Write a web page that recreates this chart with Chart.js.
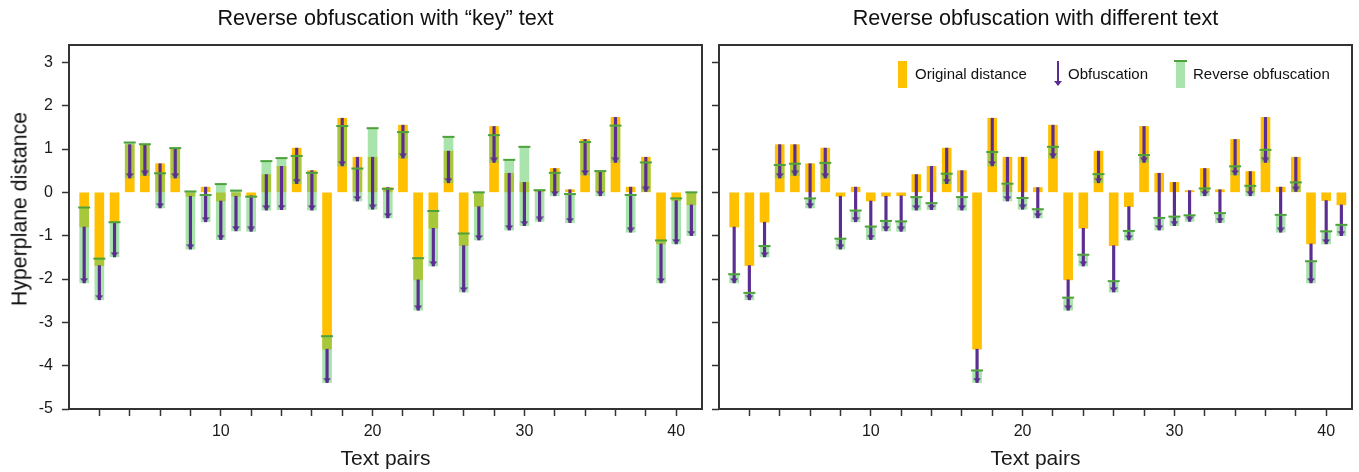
<!DOCTYPE html>
<html>
<head>
<meta charset="utf-8">
<title>Reverse obfuscation</title>
<script src="https://cdn.jsdelivr.net/npm/chart.js@4.4.1/dist/chart.umd.min.js"></script>
<style>
  body { margin: 0; background: #fff; font-family: "Liberation Sans", Arial, Helvetica, sans-serif; color: #111; }
  #wrap { position: relative; width: 1359px; height: 472px; overflow: hidden; }
  .panel { position: absolute; top: 0; height: 472px; }
  #left { left: 0; width: 710px; }
  #right { left: 706px; width: 654px; }
  .title { position: absolute; top: 5px; width: 633px; font-size: 21.6px; line-height: 26px; text-align: center; white-space: nowrap; }
  #ylabel { position: absolute; left: 20px; top: 209px; font-size: 21.3px; white-space: nowrap;
            transform: translate(-50%, -50%) rotate(-90deg); }
  .lg { position: absolute; }
  .lg-text { position: absolute; top: 65px; font-size: 15px; line-height: 18px; white-space: nowrap; }
</style>
</head>
<body>
<div id="wrap">
  <div class="panel" id="left"><canvas id="keyChart"></canvas></div>
  <div class="panel" id="right"><canvas id="diffChart"></canvas></div>

  <div class="title" style="left:69px">Reverse obfuscation with “key” text</div>
  <div class="title" style="left:719px">Reverse obfuscation with different text</div>
  <div id="ylabel">Hyperplane distance</div>

  <!-- legend (right panel, top right) -->
  <div class="lg" style="left:898px; top:61px; width:9px; height:27px; background:#FFC000"></div>
  <div class="lg-text" style="left:915px">Original distance</div>
  <div class="lg" style="left:1057px; top:61px; width:2px; height:21px; background:#5b2d90"></div>
  <div class="lg" style="left:1054px; top:81px; width:0; height:0; border-left:4px solid transparent; border-right:4px solid transparent; border-top:5px solid #5b2d90"></div>
  <div class="lg-text" style="left:1068px">Obfuscation</div>
  <div class="lg" style="left:1176px; top:61px; width:9px; height:27px; background:rgba(100,206,106,0.56)"></div>
  <div class="lg" style="left:1174px; top:60px; width:13px; height:2px; background:#4da23c"></div>
  <div class="lg-text" style="left:1193px">Reverse obfuscation</div>
</div>

<script>
// --- Data ---
const pairs = [1, 2, 3, 4, 5, 6, 7, 8, 9, 10, 11, 12, 13, 14, 15, 16, 17, 18, 19, 20,
  21, 22, 23, 24, 25, 26, 27, 28, 29, 30, 31, 32, 33, 34, 35, 36, 37, 38, 39, 40, 41];

const originalDist = [-0.80, -1.69, -0.69, 1.10, 1.10, 0.66, 1.02, -0.09, 0.12, -0.20,
  -0.09, -0.08, 0.41, 0.60, 1.02, 0.50, -3.62, 1.71, 0.81, 0.81,
  0.11, 1.55, -2.02, -0.83, 0.95, -1.23, -0.33, 1.52, 0.44, 0.23,
  0.04, 0.55, 0.06, 1.22, 0.48, 1.73, 0.12, 0.81, -1.19, -0.19, -0.29];

const obfuscatedDist = [-2.09, -2.48, -1.49, 0.33, 0.39, -0.36, 0.33, -1.31, -0.68, -1.09,
  -0.89, -0.90, -0.41, -0.40, 0.20, -0.41, -4.39, 0.61, -0.20, -0.39,
  -0.59, 0.79, -2.72, -1.70, 0.22, -2.30, -1.10, 0.69, -0.87, -0.77,
  -0.67, -0.08, -0.70, 0.40, -0.08, 0.69, -0.92, 0.02, -2.09, -1.19, -1.00];

// reverse obfuscation using the "key" text (left panel)
const reverseKey = [-0.35, -1.53, -0.69, 1.15, 1.11, 0.44, 1.02, 0.02, -0.06, 0.19,
  0.04, -0.10, 0.72, 0.79, 0.84, 0.45, -3.32, 1.53, 0.55, 1.48,
  0.08, 1.39, -1.52, -0.43, 1.28, -0.95, 0.00, 1.32, 0.75, 1.05,
  0.05, 0.45, -0.04, 1.16, 0.49, 1.54, -0.06, 0.69, -1.11, -0.14, 0.00];

// reverse obfuscation using a different text (right panel)
const reverseDiff = [-1.89, -2.32, -1.24, 0.63, 0.66, -0.14, 0.68, -1.07, -0.42, -0.79,
  -0.66, -0.67, -0.11, -0.25, 0.43, -0.11, -4.11, 0.93, 0.20, -0.13,
  -0.39, 1.05, -2.43, -1.44, 0.42, -2.05, -0.89, 0.86, -0.59, -0.56,
  -0.53, 0.09, -0.48, 0.60, 0.15, 0.98, -0.52, 0.23, -1.59, -0.90, -0.75];

const yTickValues = [-5, -4, -3, -2, -1, 0, 1, 2, 3];
const xTickValues = [2, 4, 6, 8, 10, 12, 14, 16, 18, 20, 22, 24, 26, 28, 30, 32, 34, 36, 38, 40];
const xTickLabels = [10, 20, 30, 40];

// --- Styling ---
const FONT = '"Liberation Sans", Arial, Helvetica, sans-serif';
const ORANGE = '#FFC000';
const PURPLE = '#5b2d90';
const GREEN_FILL = 'rgba(100, 206, 106, 0.56)';
const GREEN_TICK = '#4da23c';
const AXIS = '#333';
const TEXT = '#1a1a1a';

// arrow head marker: tip sits on the marker centre so it lands on the obfuscated value
function makeArrowHead() {
  const c = document.createElement('canvas');
  c.width = 8;
  c.height = 10;
  const g = c.getContext('2d');
  g.fillStyle = PURPLE;
  g.beginPath();
  g.moveTo(0, 0.5);
  g.lineTo(8, 0.5);
  g.lineTo(4, 5);
  g.closePath();
  g.fill();
  return c;
}
const arrowHead = makeArrowHead();

// box around the plotting area
const framePlugin = {
  id: 'frame',
  afterDatasetsDraw(chart) {
    const { ctx, chartArea: a } = chart;
    ctx.save();
    ctx.strokeStyle = AXIS;
    ctx.lineWidth = 2;
    ctx.strokeRect(a.left, a.top, a.right - a.left, a.bottom - a.top);
    ctx.restore();
  }
};

function makeChart(canvasId, reverse, isLeft) {
  const tickGrid = { drawOnChartArea: false, offset: false, tickLength: 7, tickWidth: 1.5, tickColor: AXIS };

  return new Chart(document.getElementById(canvasId), {
    type: 'bar',
    data: {
      datasets: [
        {
          label: 'Reverse tick',
          type: 'scatter',
          data: pairs.map((p, i) => ({ x: p, y: reverse[i] })),
          pointStyle: 'line',
          pointRadius: 6,
          pointBorderWidth: 2,
          pointBorderColor: GREEN_TICK,
          order: 0
        },
        {
          label: 'Arrow head',
          type: 'scatter',
          data: pairs.map((p, i) => ({ x: p, y: obfuscatedDist[i] })),
          pointStyle: arrowHead,
          pointRadius: 5,
          order: 1
        },
        {
          label: 'Obfuscation',
          data: pairs.map((p, i) => ({ x: p, y: [originalDist[i], obfuscatedDist[i]] })),
          backgroundColor: PURPLE,
          barThickness: 2.5,
          grouped: false,
          order: 2
        },
        {
          label: 'Reverse obfuscation',
          data: pairs.map((p, i) => ({ x: p, y: [obfuscatedDist[i], reverse[i]] })),
          backgroundColor: GREEN_FILL,
          barThickness: 9,
          grouped: false,
          order: 3
        },
        {
          label: 'Original distance',
          data: pairs.map((p, i) => ({ x: p, y: [0, originalDist[i]] })),
          backgroundColor: ORANGE,
          barThickness: 9,
          grouped: false,
          order: 4
        }
      ]
    },
    options: {
      responsive: true,
      maintainAspectRatio: false,
      animation: false,
      events: [],
      layout: { padding: { left: 0, right: 8, top: 45, bottom: 0 } },
      plugins: { legend: { display: false }, tooltip: { enabled: false } },
      scales: {
        x: {
          type: 'linear',
          min: 0,
          max: 41.7,
          offset: false,
          afterBuildTicks: s => { s.ticks = xTickValues.map(v => ({ value: v })); },
          afterFit: s => { s.height = 63; },
          grid: tickGrid,
          border: { display: false },
          ticks: {
            autoSkip: false,
            maxRotation: 0,
            padding: 6,
            color: TEXT,
            font: { size: 16, family: FONT },
            callback: v => (xTickLabels.includes(v) ? String(v) : '')
          },
          title: {
            display: true,
            text: 'Text pairs',
            color: TEXT,
            font: { size: 21, family: FONT },
            padding: { top: 0, bottom: 0 }
          }
        },
        y: {
          min: -5,
          max: 3.4,
          afterBuildTicks: s => { s.ticks = yTickValues.map(v => ({ value: v })); },
          afterFit: s => { s.width = isLeft ? 69 : 13; },
          grid: tickGrid,
          border: { display: false },
          ticks: {
            display: isLeft,
            padding: 9,
            color: TEXT,
            font: { size: 16, family: FONT },
            callback: v => String(v)
          }
        }
      }
    },
    plugins: [framePlugin]
  });
}

makeChart('keyChart', reverseKey, true);
makeChart('diffChart', reverseDiff, false);
</script>
</body>
</html>
